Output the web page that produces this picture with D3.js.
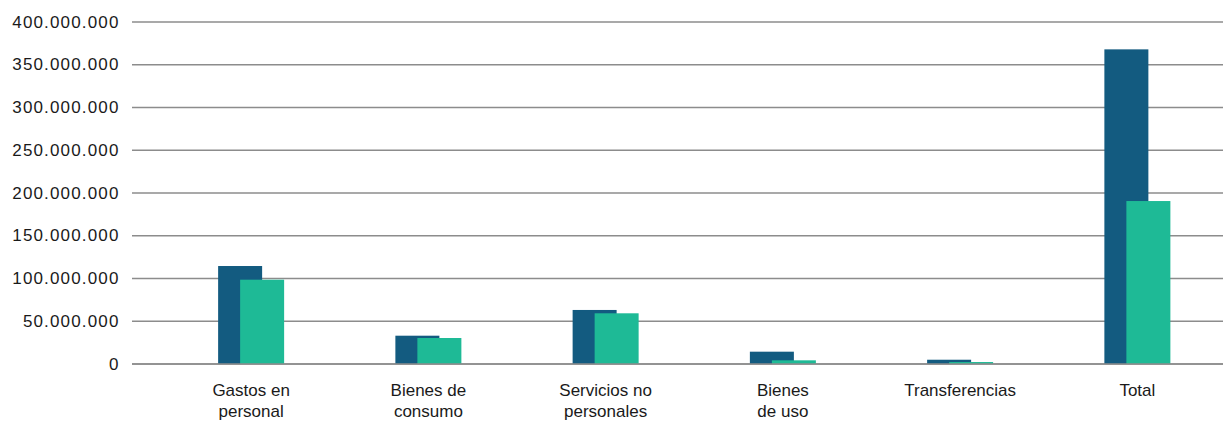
<!DOCTYPE html>
<html>
<head>
<meta charset="utf-8">
<script src="https://cdn.jsdelivr.net/npm/d3@7"></script>
<style>
html,body{margin:0;padding:0;background:#fff;}
svg{display:block;}
</style>
</head>
<body>
<svg id="chart" width="1223" height="421"></svg>
<script>
const categories = [["Gastos en","personal"],["Bienes de","consumo"],["Servicios no","personales"],["Bienes","de uso"],["Transferencias"],["Total"]];
const seriesA = [114600000, 33100000, 63200000, 14400000, 5000000, 368000000];
const seriesB = [98600000, 30400000, 59300000, 4300000, 2300000, 190600000];
const yTicks = [0,50000000,100000000,150000000,200000000,250000000,300000000,350000000,400000000];
const colors = ["#135b80", "#1eba96"];

const svg = d3.select("#chart");
const W = 1223;
const gridX0 = 132;

const x = d3.scaleBand().domain(d3.range(categories.length)).range([162.5, 1226]).paddingInner(0).paddingOuter(0);
const y = d3.scaleLinear().domain([0, 400000000]).range([364, 22]);

const fmt = v => d3.format(",")(v).replace(/,/g, ".");

// gridlines
svg.append("g").selectAll("line").data(yTicks).join("line")
  .attr("x1", gridX0).attr("x2", W)
  .attr("y1", d => y(d)).attr("y2", d => y(d))
  .attr("stroke", "#8c8c8c").attr("stroke-width", 1.5);

// y axis labels via d3 axis
const yAxis = d3.axisLeft(y).tickValues(yTicks).tickFormat(fmt).tickSize(0).tickPadding(0);
const gy = svg.append("g").attr("transform", "translate(119.5,0)").call(yAxis);
gy.select(".domain").remove();
gy.selectAll("text")
  .attr("font-family", "'Liberation Sans', Arial, sans-serif")
  .attr("font-size", 17)
  .attr("letter-spacing", "1.15px")
  .attr("fill", "#1a1a1a")
  .attr("dy", "0.3em");

const barW = 44, offset = 22;
const groupW = barW + offset;

// series A (dark)
svg.append("g").selectAll("rect").data(seriesA).join("rect")
  .attr("x", (d,i) => x(i) + x.bandwidth()/2 - groupW/2)
  .attr("y", d => y(d))
  .attr("width", barW)
  .attr("height", d => y(0) - y(d))
  .attr("fill", colors[0]);

// series B (green) overlapping
svg.append("g").selectAll("rect").data(seriesB).join("rect")
  .attr("x", (d,i) => x(i) + x.bandwidth()/2 - groupW/2 + offset)
  .attr("y", d => y(d))
  .attr("width", barW)
  .attr("height", d => y(0) - y(d))
  .attr("fill", colors[1]);

// baseline on top
svg.append("line").attr("x1", gridX0).attr("x2", W)
  .attr("y1", y(0)).attr("y2", y(0))
  .attr("stroke", "#8c8c8c").attr("stroke-width", 1.5);

// category labels
const gl = svg.append("g").selectAll("text").data(categories).join("text")
  .attr("x", (d,i) => x(i) + x.bandwidth()/2)
  .attr("y", 396)
  .attr("text-anchor", "middle")
  .attr("font-family", "'Liberation Sans', Arial, sans-serif")
  .attr("font-size", 17)
  .attr("fill", "#1a1a1a");
gl.selectAll("tspan").data(d => d).join("tspan")
  .attr("x", function(){ return d3.select(this.parentNode).attr("x"); })
  .attr("dy", (d,i) => i === 0 ? 0 : 21)
  .text(d => d);
</script>
</body>
</html>
